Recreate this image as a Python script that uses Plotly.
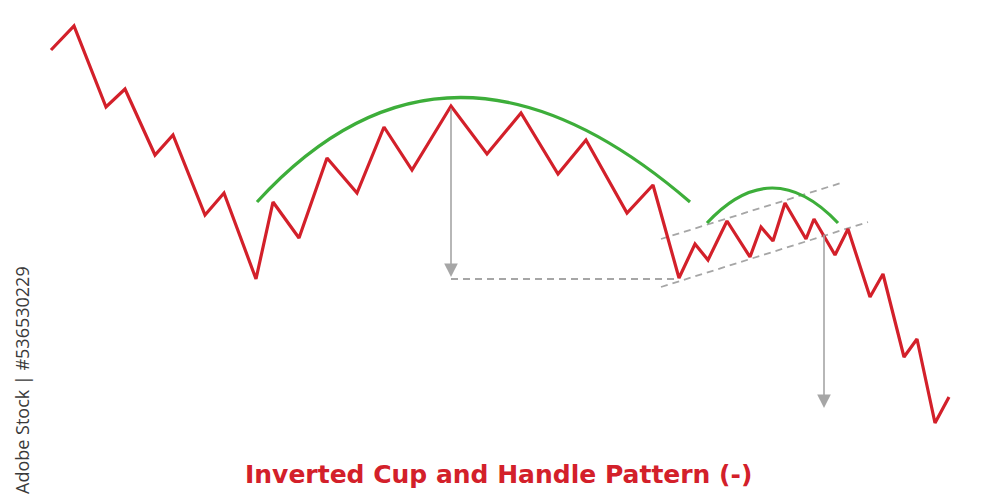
import plotly.graph_objects as go

# Price path (x = time position, y = price level)
price_x = [51, 74, 106, 125, 155, 173, 205, 224, 256, 273, 299, 327, 357, 384, 412,
           451, 487, 521, 558, 586, 627, 653, 679, 695, 708, 727, 750, 761, 773, 785,
           806, 814, 835, 848, 870, 883, 904, 917, 935, 949]
price_y = [450, 474, 393, 411, 345, 365, 285, 307, 221, 298, 262, 342, 307, 373, 330,
           394, 346, 387, 326, 360, 287, 315, 222, 256, 240, 279, 243, 273, 259, 297,
           261, 281, 245, 271, 203, 226, 143, 161, 77, 103]

# Cup arc (start, control, end) and handle arc
cup_arc = [(257, 298), (448, 507), (690, 298)]
handle_arc = [(707, 277), (772, 347), (838, 277)]

# Handle channel lines
channel_upper = [(661, 261), (841, 317)]
channel_lower = [(661, 213), (868, 278)]

# Neckline (dashed horizontal)
neckline = [(451, 221), (679, 221)]

# Measurement arrows: (x, y_from, y_to)
arrow_cup = (451, 393, 223)
arrow_target = (824, 267, 92)

title_text = "Inverted Cup and Handle Pattern (-)"
watermark = "Adobe Stock | #536530229"

RED = "#D3202A"
GREEN = "#3DAE3A"
GRAY = "#A6A6A6"

fig = go.Figure()

# Dashed guide lines
for seg in (channel_upper, channel_lower, neckline):
    fig.add_trace(go.Scatter(
        x=[p[0] for p in seg], y=[p[1] for p in seg], mode="lines",
        line=dict(color=GRAY, width=1.8, dash="7px,5px"), hoverinfo="skip",
        showlegend=False))

# Arcs
for arc in (cup_arc, handle_arc):
    (x0, y0), (cx, cy), (x1, y1) = arc
    fig.add_shape(type="path", xref="x", yref="y",
                  path=f"M {x0},{y0} Q {cx},{cy} {x1},{y1}",
                  line=dict(color=GREEN, width=3.2))

# Price line
fig.add_trace(go.Scatter(x=price_x, y=price_y, mode="lines",
                         line=dict(color=RED, width=3.2), showlegend=False,
                         hoverinfo="skip"))

# Arrows
for (ax_, y_from, y_to) in (arrow_cup, arrow_target):
    fig.add_annotation(x=ax_, y=y_to, ax=ax_, ay=y_from, xref="x", yref="y",
                       axref="x", ayref="y", text="", showarrow=True,
                       arrowhead=2, arrowsize=1.7, arrowwidth=1.6,
                       arrowcolor=GRAY, standoff=0, startstandoff=0)

fig.add_annotation(x=498, y=26, xref="x", yref="y", text=f"<b>{title_text}</b>",
                   showarrow=False, xanchor="center", yanchor="middle",
                   font=dict(family="DejaVu Sans", size=25, color=RED))

fig.add_annotation(x=22, y=120, xref="x", yref="y", text=watermark,
                   showarrow=False, textangle=-90, xanchor="center", yanchor="middle",
                   font=dict(family="Open Sans", size=18, color="#3a3a3a"))

fig.update_layout(
    width=1000, height=500, margin=dict(l=0, r=0, t=0, b=0),
    paper_bgcolor="white", plot_bgcolor="white",
    xaxis=dict(range=[0, 1000], visible=False, fixedrange=True),
    yaxis=dict(range=[0, 500], visible=False, fixedrange=True),
    showlegend=False,
)

fig.write_html("out.html", config={"displayModeBar": False},
               post_script="document.body.style.margin='0px';document.body.style.overflow='hidden';")
